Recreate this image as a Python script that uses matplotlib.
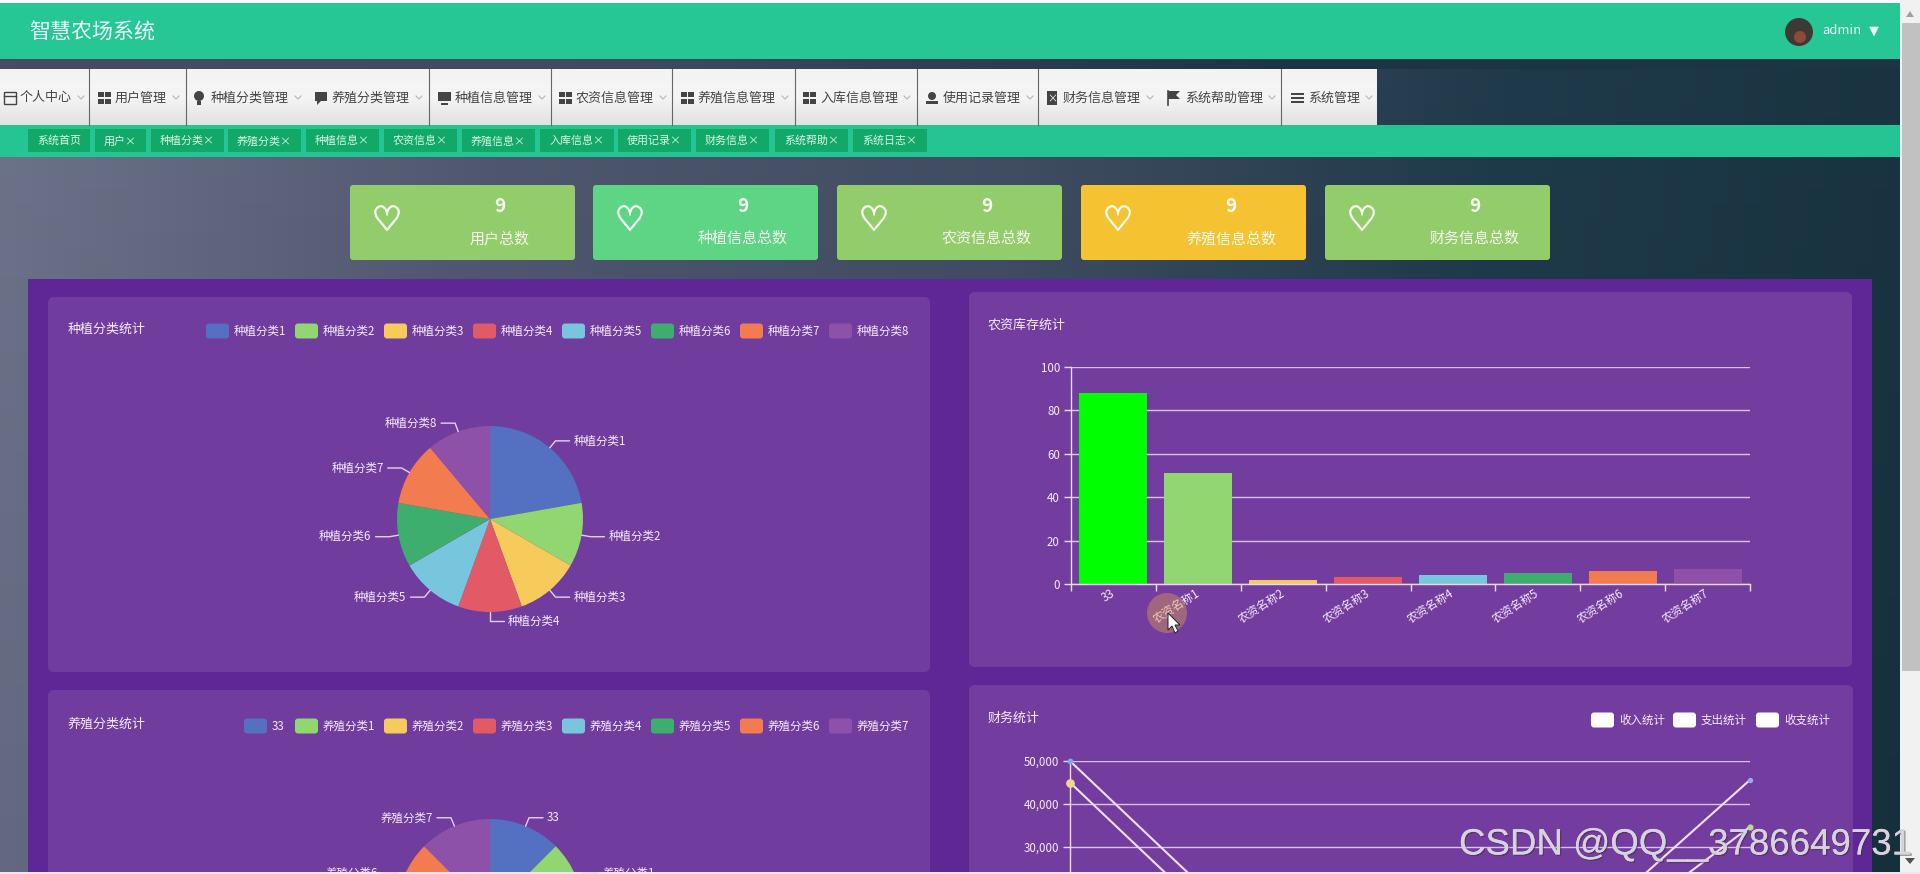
import numpy as np
import matplotlib
matplotlib.use('Agg')
from matplotlib import pyplot as plt
from matplotlib.colors import LinearSegmentedColormap
from matplotlib.patches import Rectangle, FancyBboxPatch, Circle, Polygon
from matplotlib.ticker import FuncFormatter
import matplotlib.patheffects as pe

plt.rcParams['font.family'] = ['Noto Sans CJK SC', 'DejaVu Sans']

# data
plant_names = ['种植分类1', '种植分类2', '种植分类3', '种植分类4', '种植分类5', '种植分类6', '种植分类7', '种植分类8']
plant_values = [2, 1, 1, 1, 1, 1, 1, 1]
breed_names = ['33', '养殖分类1', '养殖分类2', '养殖分类3', '养殖分类4', '养殖分类5', '养殖分类6', '养殖分类7']
breed_values = [1, 1, 1, 1, 1, 1, 1, 1]
stock_names = ['33', '农资名称1', '农资名称2', '农资名称3', '农资名称4', '农资名称5', '农资名称6', '农资名称7']
stock_values = [88, 51, 2, 3, 4, 5, 6, 7]
finance_names = ['收入统计', '支出统计', '收支统计']
income_values = [50000, 0, -1500, 45600]
expense_values = [45000, -5000, -5000, 34700]
balance_values = [5000, 5000, 3500, 10900]
card_values = [9, 9, 9, 9, 9]
card_names = ['用户总数', '种植信息总数', '农资信息总数', '养殖信息总数', '财务信息总数']
nav_names = ['个人中心', '用户管理', '种植分类管理', '养殖分类管理', '种植信息管理', '农资信息管理',
             '养殖信息管理', '入库信息管理', '使用记录管理', '财务信息管理', '系统帮助管理', '系统管理']
tag_names = ['系统首页', '用户×', '种植分类×', '养殖分类×', '种植信息×', '农资信息×',
             '养殖信息×', '入库信息×', '使用记录×', '财务信息×', '系统帮助×', '系统日志×']

# layout, in picture pixels
W, H = 1920, 874
nav_edges = [0, 89, 186, 306, 429, 551, 672, 795, 917, 1038, 1159, 1281, 1377]
nav_text_x = [20, 115, 211, 332, 455, 576, 698, 820, 943, 1063, 1185, 1308]
nav_icons = ['page', 'grid', 'bulb', 'chat', 'monitor', 'grid', 'grid', 'grid', 'person', 'clip', 'flag', 'bars']
tag_spans = [(28, 90), (95, 146), (151, 224), (228, 301), (306, 379), (384, 457),
             (462, 535), (540, 614), (618, 691), (696, 769), (775, 848), (853, 927)]
card_left = [350, 593, 837, 1081, 1325]
card_colors = ['#93cc6b', '#5dd584', '#93cc6b', '#f5c231', '#93cc6b']
slice_colors = ['#5470c0', '#91d671', '#f6cb5c', '#e25a66', '#78c6dd', '#3eae6e', '#f27b4f', '#8e51aa']
bar_colors = ['#00ff00'] + slice_colors[1:]
plant_legend_x = [206, 295, 384, 473, 562, 651, 740, 829]
breed_legend_x = [244, 295, 384, 473, 562, 651, 740, 829]
finance_legend_x = [1591, 1673, 1756]
TXT = '#f6ecfb'
LINE = '#dcc0ee'

fig = plt.figure(figsize=(W / 100, H / 100), dpi=100)


def pt(px):
    return px * 0.72


def axes_px(left, top, right, bottom, **kw):
    return fig.add_axes([left / W, 1 - bottom / H, (right - left) / W, (bottom - top) / H], **kw)


def page_axes(z):
    a = fig.add_axes([0, 0, 1, 1], zorder=z)
    a.set_xlim(0, W)
    a.set_ylim(H, 0)
    a.axis('off')
    a.patch.set_alpha(0)
    return a


def box(a, x0, y0, x1, y1, color, r=0, **kw):
    if r:
        a.add_patch(FancyBboxPatch((x0, y0), x1 - x0, y1 - y0, boxstyle='round,pad=0,rounding_size=%d' % r,
                                   fc=color, ec='none', **kw))
    else:
        a.add_patch(Rectangle((x0, y0), x1 - x0, y1 - y0, fc=color, ec='none', **kw))


def nav_icon(a, kind, x, y):
    c = '#444444'
    if kind == 'grid':
        for dx in (0, 7):
            for dy in (-6, 1):
                box(a, x + dx, y + dy, x + dx + 5.5, y + dy + 5, c)
    elif kind == 'page':
        a.add_patch(Rectangle((x + 1, y - 6), 12, 12, fc='none', ec=c, lw=1))
        a.plot([x + 1, x + 13], [y - 2, y - 2], color=c, lw=1)
    elif kind == 'bulb':
        a.add_patch(Circle((x + 5, y - 2), 5, fc=c, ec='none'))
        box(a, x + 3, y + 3, x + 7, y + 7, c)
    elif kind == 'chat':
        box(a, x, y - 6, x + 12, y + 3, c)
        a.add_patch(Polygon([(x + 2, y + 3), (x + 6, y + 3), (x + 2, y + 7)], fc=c, ec='none'))
    elif kind == 'monitor':
        box(a, x, y - 6, x + 13, y + 3, c)
        box(a, x + 3, y + 5, x + 10, y + 6.5, c)
    elif kind == 'person':
        a.add_patch(Circle((x + 6, y - 2), 4, fc=c, ec='none'))
        box(a, x, y + 3, x + 12, y + 6, c)
    elif kind == 'clip':
        box(a, x + 1, y - 7, x + 11, y + 7, c)
        a.text(x + 6, y + 1, '×', color='white', fontsize=pt(10), ha='center', va='center')
    elif kind == 'flag':
        a.add_patch(Polygon([(x, y - 7), (x + 12, y - 7), (x + 8, y - 3), (x + 12, y + 1), (x, y + 1)],
                            fc=c, ec='none'))
        a.plot([x, x], [y - 7, y + 7], color=c, lw=1.2)
    elif kind == 'bars':
        for dy in (-5, -1, 3):
            box(a, x, y + dy, x + 13, y + dy + 2, c)


def legend(a, xs, names, colors, y, swatch_w=23):
    for x, name, color in zip(xs, names, colors):
        box(a, x, y - 7.5, x + swatch_w, y + 7.5, color, r=3)
        a.text(x + swatch_w + 5, y, name, color=TXT, fontsize=pt(11.5), va='center', ha='left')


def pie_chart(names, values, cx, cy, R=93):
    p = axes_px(cx - R, cy - R, cx + R, cy + R, zorder=2)
    wedges, _ = p.pie(values, colors=slice_colors, startangle=90, counterclock=False, radius=1,
                      wedgeprops={'linewidth': 0})
    p.set_xlim(-1, 1)
    p.set_ylim(-1, 1)
    for w, name in zip(wedges, names):
        ang = np.deg2rad((w.theta1 + w.theta2) / 2)
        c, s = np.cos(ang), np.sin(ang)
        sign = 1 if c > -1e-6 else -1
        x0, y0 = cx + R * c, cy - R * s
        x1, y1 = cx + (R + 9) * c, cy - (R + 9) * s
        x2 = x1 + sign * 14
        top.plot([x0, x1, x2], [y0, y1, y1], color='#e6cff4', lw=1, solid_capstyle='round')
        top.text(x2 + sign * 4, y1, name, color=TXT, fontsize=pt(11.5), va='center',
                 ha='left' if sign > 0 else 'right')


def style_axis(a):
    a.patch.set_alpha(0)
    for k in ('top', 'right'):
        a.spines[k].set_visible(False)
    for k in ('left', 'bottom'):
        a.spines[k].set_color('#eadcf5')
        a.spines[k].set_linewidth(1)
    a.set_axisbelow(True)
    a.grid(axis='y', color=LINE, lw=1)
    a.grid(axis='x', visible=False)
    a.tick_params(axis='both', colors='#eadcf5', labelcolor=TXT, labelsize=pt(11.5), length=5, width=1, pad=3)


bg = page_axes(0)
top = page_axes(5)

# page background
yy, xx = np.mgrid[0:1:60j, 0:1:120j]
grad = LinearSegmentedColormap.from_list('page', [(0, '#6d748a'), (0.25, '#50566f'), (0.5, '#3f4c62'),
                                                  (0.72, '#1f3a4a'), (1, '#16303b')])
bg.imshow(np.clip(xx * 0.9 + yy * 0.1, 0, 1), cmap=grad, extent=(0, W, H, 0), aspect='auto', vmin=0, vmax=1)
band = LinearSegmentedColormap.from_list('band', ['#484c63', '#3f4a60', '#1c3545', '#1c3545'])
bg.imshow(xx[:1], cmap=band, extent=(0, W, 69, 59), aspect='auto', vmin=0, vmax=1)
bg.set_xlim(0, W)
bg.set_ylim(H, 0)

# header
box(bg, 0, 0, W, 3, '#ffffff')
box(bg, 0, 3, 1900, 59, '#27c795')
bg.text(29, 33, '智慧农场系统', color='#ecfaf5', fontsize=pt(21), va='center', ha='left')
bg.add_patch(Circle((1799, 32), 14, fc='#3d3a36', ec='none'))
bg.add_patch(Circle((1800, 37), 6, fc='#8c4a3a', ec='none'))
bg.text(1822, 31, 'admin', color='#e8faf4', fontsize=pt(13), fontweight='medium', va='center', ha='left')
bg.text(1869, 31, '▼', color='#e8faf4', fontsize=pt(13), va='center', ha='left', family='DejaVu Sans')

# nav tabs
tab_grad = LinearSegmentedColormap.from_list('tab', ['#f3f3f3', '#f5f5f5', '#e2e2e2'])
bg.imshow(np.linspace(0, 1, 30).reshape(-1, 1), cmap=tab_grad, aspect='auto', extent=(0, nav_edges[-1], 125, 69))
bg.set_xlim(0, W)
bg.set_ylim(H, 0)
for x in nav_edges[1:-1]:
    if x != 306 and x != 1159:
        bg.plot([x, x], [69, 125], color='#666666', lw=0.8)
for name, x, kind in zip(nav_names, nav_text_x, nav_icons):
    bg.text(x, 98, name, color='#444444', fontsize=pt(13), va='center', ha='left')
    nav_icon(bg, kind, x - 17, 98)
    ex = x + 13 * len(name) + 9
    bg.plot([ex - 3, ex, ex + 3], [96, 99, 96], color='#b5b5b5', lw=0.8)

# tags
box(bg, 0, 125, 1900, 157, '#25c493')
for (x0, x1), name in zip(tag_spans, tag_names):
    box(bg, x0, 129, x1, 152, '#12a968')
    bg.text((x0 + x1) / 2, 141, name, color='#d9f5e6', fontsize=pt(11), va='center', ha='center')

# summary cards
for x, c, v, name in zip(card_left, card_colors, card_values, card_names):
    box(bg, x, 185, x + 225, 260, c, r=3)
    bg.text(x + 37, 221, '♡', color='#f4fbef', fontsize=pt(34), va='center', ha='center', family='DejaVu Sans',
            path_effects=[pe.withStroke(linewidth=1, foreground='#f4fbef')])
    bg.text(x + 150, 207, str(v), color='#f6fcf2', fontsize=pt(19), fontweight='bold', va='center', ha='center')
    bg.text(x + 150, 239, name, color='#f4fbef', fontsize=pt(15), va='center', ha='center')

# chart panels
box(bg, 28, 279, 1872, H, '#5e2795')
box(bg, 48, 297, 930, 672, '#703c9e', r=6)
box(bg, 969, 292, 1852, 667, '#733d9f', r=6)
box(bg, 48, 690, 930, H + 10, '#703c9e', r=6)
box(bg, 969, 685, 1853, H + 10, '#733d9f', r=6)

# plant pie
bg.text(68, 329, '种植分类统计', color=TXT, fontsize=pt(13), va='center', ha='left')
legend(bg, plant_legend_x, plant_names, slice_colors, 331)
pie_chart(plant_names, plant_values, 490, 519)

# breed pie
bg.text(68, 724, '养殖分类统计', color=TXT, fontsize=pt(13), va='center', ha='left')
legend(bg, breed_legend_x, breed_names, slice_colors, 726)
pie_chart(breed_names, breed_values, 490, 912)

# stock bars
bg.text(988, 325, '农资库存统计', color=TXT, fontsize=pt(13), va='center', ha='left')
ax_bar = axes_px(1071, 367, 1750, 584, zorder=2)
style_axis(ax_bar)
bar_x = np.arange(len(stock_values)) + 0.5
ax_bar.bar(bar_x, stock_values, 0.8, color=bar_colors, zorder=2)
ax_bar.set_xlim(0, len(stock_values))
ax_bar.set_ylim(0, 100)
ax_bar.set_yticks(range(0, 101, 20))
ax_bar.set_xticks(range(len(stock_values) + 1))
ax_bar.set_xticklabels([])
ax_bar.set_xticks(bar_x, stock_names, minor=True, rotation=32, ha='right', va='center', rotation_mode='anchor')
ax_bar.tick_params(axis='x', which='minor', length=0, pad=6, labelcolor=TXT, labelsize=pt(11.5))

# finance lines
bg.text(988, 718, '财务统计', color=TXT, fontsize=pt(13), va='center', ha='left')
legend(bg, finance_legend_x, finance_names, ['#ffffff'] * 3, 720)
ax_line = axes_px(1070, 761, 1750, 1019, zorder=2)
style_axis(ax_line)
line_x = np.arange(len(income_values))
for vals in (income_values, expense_values, balance_values):
    ax_line.plot(line_x, vals, color='#f3dffb', lw=1.5, clip_on=False)
ax_line.set_xlim(0, len(income_values) - 1)
ax_line.set_ylim(-10000, 50000)
ax_line.set_yticks(range(30000, 50001, 10000))
ax_line.yaxis.set_major_formatter(FuncFormatter(lambda v, _: format(int(v), ',')))
ax_line.set_xticks([])
ax_line.scatter([line_x[0]], [income_values[0]], s=10, color='#7fa8f0', zorder=4, clip_on=False)
ax_line.scatter([line_x[0]], [expense_values[0]], s=28, color='#f3d58a', zorder=4, clip_on=False)
ax_line.scatter([line_x[-1]], [income_values[-1]], s=8, color='#8fb0f0', zorder=4, clip_on=False)
ax_line.scatter([line_x[-1]], [expense_values[-1]], s=12, color='#b5dc90', zorder=4, clip_on=False)

# mouse pointer over the axis label
top.add_patch(Circle((1167, 613), 20, fc='#e0a050', ec='none', alpha=0.42))
top.add_patch(Polygon([(1168, 613), (1168, 630), (1172, 626), (1175, 633), (1178, 631), (1175, 625), (1180, 625)],
                      fc='white', ec='#222222', lw=0.7))

# scrollbar and page edge
box(top, 1900, 0, W, H, '#f1f1f1')
box(top, 1902, 23, W, 671, '#c1c1c1')
top.add_patch(Polygon([(1906, 17), (1910, 11), (1914, 17)], fc='#a0a0a0', ec='none'))
top.add_patch(Polygon([(1905, 858), (1915, 858), (1910, 864)], fc='#505050', ec='none'))
box(top, 0, 872, W, H, '#f2e4f2')

# watermark
top.text(1459, 845, 'CSDN @QQ__3786649731', family='Liberation Sans', fontsize=26.4, color='#d8d2de',
         va='center', ha='left', path_effects=[pe.withSimplePatchShadow(offset=(1, -1), shadow_rgbFace='#333333', alpha=0.5), pe.Normal()])

fig.savefig('out.png', dpi=100)
